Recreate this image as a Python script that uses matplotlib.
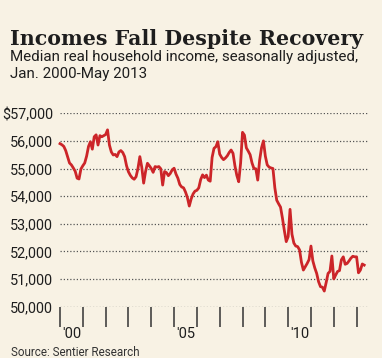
import numpy as np
import matplotlib
matplotlib.use("Agg")
import matplotlib.pyplot as plt

# monthly median real household income, Jan 2000 - May 2013
income = [
    55900, 55860, 55800, 55650, 55420, 55200, 55130, 55020, 54900, 54650, 54620, 54980,  # 2000
    55100, 55200, 55450, 55800, 55970, 55700, 56150, 56220, 55850, 56190, 56150, 56190,  # 2001
    56230, 56400, 55850, 55600, 55490, 55510, 55430, 55600, 55650, 55580, 55430, 55100,  # 2002
    54880, 54750, 54660, 54610, 54700, 55000, 55430, 55050, 54470, 54890, 55190, 55100,  # 2003
    55000, 54860, 55070, 55050, 55070, 54990, 54400, 54890, 54850, 54740, 54820, 54950,  # 2004
    55010, 54800, 54650, 54420, 54330, 54300, 54150, 53950, 53640, 53900, 54080, 54180,  # 2005
    54210, 54300, 54600, 54770, 54670, 54760, 54580, 54540, 55400, 55730, 55790, 55970,  # 2006
    55520, 55400, 55320, 55380, 55460, 55580, 55670, 55550, 55100, 54750, 54520, 55200,  # 2007
    56310, 56210, 55750, 55630, 55500, 55200, 55000, 54990, 54580, 55300, 55750, 56000,  # 2008
    55450, 55130, 55050, 55020, 55000, 54300, 53850, 53720, 53600, 53200, 52750, 52350,  # 2009
    52530, 53520, 52620, 52300, 52190, 52170, 52050, 51600, 51320, 51440, 51560, 51700,  # 2010
    52190, 51650, 51400, 51200, 50900, 50720, 50700, 50560, 50870, 51200, 51270, 51830,  # 2011
    51000, 51140, 51270, 51300, 51690, 51800, 51530, 51560, 51650, 51750, 51820, 51800,  # 2012
    51800, 51220, 51320, 51540, 51500,                                                   # 2013
]
years = np.arange(2000, 2014)
year_labels = ["'00", "", "", "", "", "'05", "", "", "", "", "'10", "", "", ""]
y_ticks = [50000, 51000, 52000, 53000, 54000, 55000, 56000, 57000]
y_labels = ["50,000", "51,000", "52,000", "53,000", "54,000", "55,000", "56,000", "$57,000"]

W, H = 382, 358
bg = "#f8f2e4"
red = "#cc2529"
ink = "#1e1e1e"

dates = 2000 + np.arange(len(income)) / 12.0

fig = plt.figure(figsize=(W / 100, H / 100), dpi=100, facecolor=bg)
ax = fig.add_axes([60 / W, (H - 306.5) / H, (368 - 60) / W, (306.5 - 113.3) / H])
ax.set_facecolor(bg)

ax.plot(dates, income, color=red, lw=2.0, clip_on=False, zorder=3,
        solid_joinstyle="round")

ax.set_xlim(2000, 2000 + (368 - 60) / 23.4)
ax.set_ylim(50000, 57000)

for v in y_ticks:
    ax.axhline(v, color="#555555", lw=0.9, ls=(0, (1, 1.6)), zorder=1)

ax.set_yticks(y_ticks)
ax.set_yticklabels(y_labels, family="Roboto", fontsize=10.4, color=ink)
ax.tick_params(axis="y", length=0, pad=5)

ax.set_xticks(years)
ax.set_xticklabels([])
ax.tick_params(axis="x", which="major", length=14.5, width=1.1, color="#333333",
               direction="out")
ax.set_xticks(years + 0.5, minor=True)
ax.set_xticklabels(year_labels, minor=True, family="Roboto", fontsize=10.5, color=ink)
ax.tick_params(axis="x", which="minor", length=0, pad=14.5)

for s in ax.spines.values():
    s.set_visible(False)

fig.text(10 / W, 1 - 45 / H, "Incomes Fall Despite Recovery", family="DejaVu Serif",
         weight="bold", fontsize=14.8, color=ink, ha="left", va="baseline")
fig.text(10 / W, 1 - 61.5 / H, "Median real household income, seasonally adjusted,",
         family="Roboto", fontsize=10.9, color=ink, ha="left", va="baseline")
fig.text(10 / W, 1 - 78 / H, "Jan. 2000-May 2013",
         family="Roboto", fontsize=10.9, color=ink, ha="left", va="baseline")
fig.text(11 / W, 1 - 356.5 / H, "Source: Sentier Research",
         family="Roboto", fontsize=8.4, color="#333333", ha="left", va="baseline")

fig.savefig("out.png", dpi=100, facecolor=bg)
